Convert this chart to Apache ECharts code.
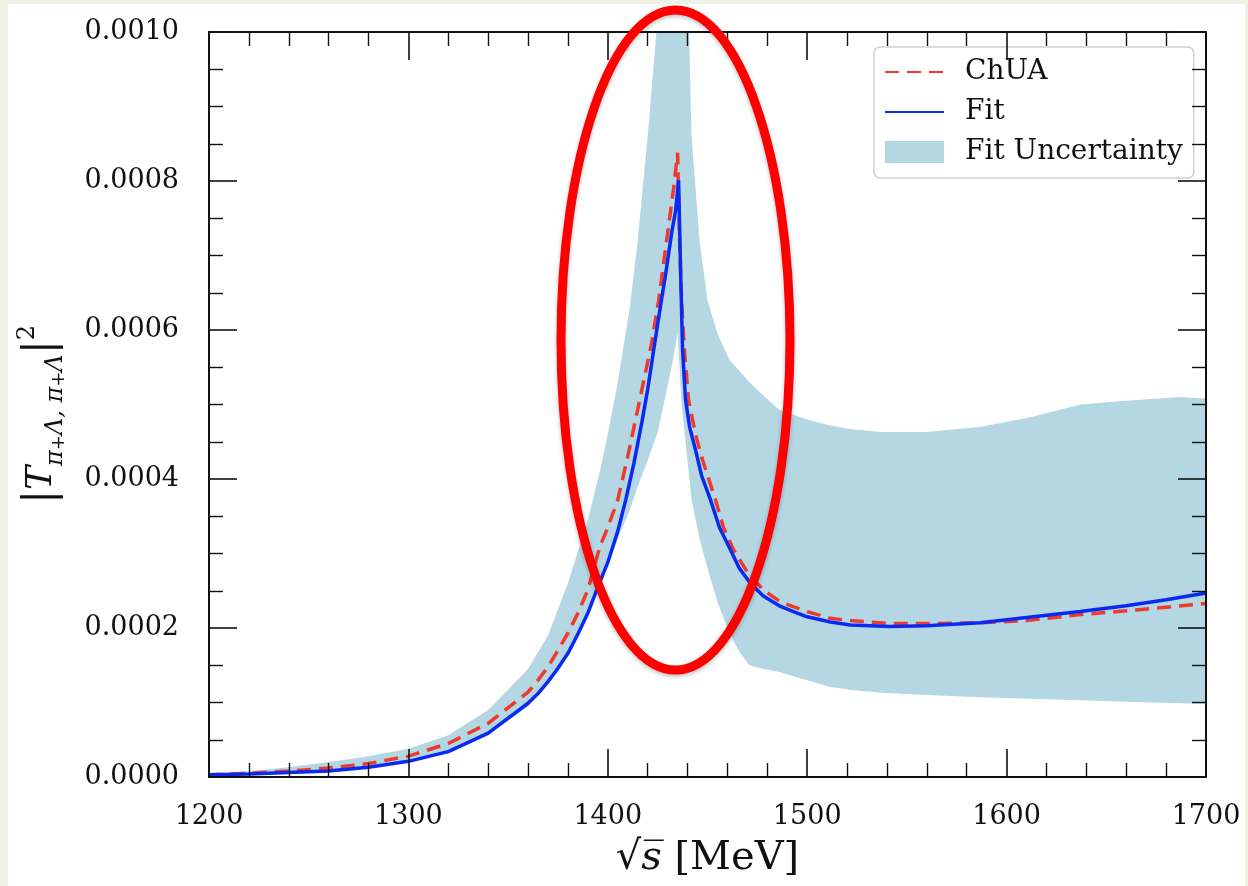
<!DOCTYPE html>
<html>
<head>
<meta charset="utf-8">
<script src="https://cdn.jsdelivr.net/npm/echarts@6/dist/echarts.min.js"></script>
<style>
  html, body { margin: 0; padding: 0; background: #eef2e4; }
  #chart { position: absolute; left: 8px; top: 4px; width: 1237px; height: 882px; background: #fff; }
</style>
</head>
<body>
<div id="chart"></div>
<script>
// values in units of 1e-4
const xTicks = [1200, 1300, 1400, 1500, 1600, 1700];
const yTicks = ['0.0000', '0.0002', '0.0004', '0.0006', '0.0008', '0.0010'];

const fitS = [1200, 1220, 1240, 1260, 1280, 1300, 1320, 1340, 1360, 1365, 1370, 1375, 1380, 1385, 1390,
  1395, 1400, 1405, 1409, 1413, 1417, 1420, 1423, 1426, 1429, 1432, 1434, 1435.5, 1436.5, 1437.5,
  1439, 1441, 1444, 1447, 1451.5, 1456, 1461.5, 1466, 1471.5, 1478, 1486.6, 1495, 1500, 1511.6,
  1521.6, 1541.7, 1560, 1586.8, 1610, 1636.9, 1660, 1680, 1700];
const fitV = [0.03, 0.04, 0.06, 0.08, 0.13, 0.21, 0.34, 0.59, 0.99, 1.12, 1.28, 1.46, 1.66, 1.92, 2.2,
  2.55, 2.88, 3.3, 3.72, 4.2, 4.75, 5.2, 5.73, 6.25, 6.75, 7.3, 7.6, 8.01, 6.8, 5.73,
  5.06, 4.7, 4.39, 4.05, 3.72, 3.35, 3.05, 2.8, 2.6, 2.43, 2.29, 2.2, 2.15, 2.08,
  2.04, 2.02, 2.03, 2.07, 2.14, 2.22, 2.3, 2.38, 2.47];

const chuaS = [1200, 1220, 1240, 1260, 1280, 1300, 1320, 1340, 1360, 1365, 1370, 1375, 1380, 1385, 1390,
  1396, 1400, 1405, 1410, 1416, 1422, 1425.5, 1428, 1431, 1433, 1435, 1436, 1437, 1438.5, 1440.5,
  1444, 1447, 1454, 1458, 1463, 1470, 1478, 1486.6, 1500, 1511.6, 1521.6, 1541.7, 1560, 1586.8,
  1610, 1637, 1660, 1680, 1700];
const chuaV = [0.03, 0.05, 0.08, 0.12, 0.18, 0.28, 0.45, 0.72, 1.14, 1.3, 1.48, 1.7, 1.93, 2.2, 2.51,
  3.09, 3.35, 3.72, 4.3, 5.06, 5.83, 6.4, 6.9, 7.5, 7.9, 8.38, 7.2, 6.4, 5.7, 5.06,
  4.6, 4.3, 3.72, 3.35, 3.05, 2.75, 2.51, 2.35, 2.22, 2.13, 2.1, 2.06, 2.06, 2.07,
  2.1, 2.18, 2.23, 2.28, 2.33];

const bandS = [1200, 1220, 1240, 1260, 1280, 1300, 1320, 1340, 1360, 1370, 1380, 1390, 1396, 1400, 1405,
  1411, 1415, 1420, 1425, 1428, 1432, 1435, 1436, 1437, 1439, 1442, 1446, 1450, 1455, 1461,
  1466, 1471, 1478, 1486, 1500, 1511, 1521, 1537, 1560, 1587, 1612, 1637, 1660, 1687, 1700];
const bandLow = [0.02, 0.03, 0.05, 0.08, 0.13, 0.2, 0.32, 0.56, 0.95, 1.25, 1.62, 2.15, 2.62, 2.85, 3.2,
  3.58, 3.9, 4.25, 4.62, 5.0, 5.5, 5.96, 5.5, 5.0, 4.5, 3.72, 3.2, 2.8, 2.35, 1.93,
  1.68, 1.5, 1.45, 1.41, 1.3, 1.21, 1.17, 1.13, 1.1, 1.07, 1.05, 1.03, 1.01, 0.99, 0.98];
const bandHigh = [0.04, 0.08, 0.13, 0.2, 0.28, 0.38, 0.56, 0.9, 1.45, 1.9, 2.6, 3.45, 4.1, 4.6, 5.3,
  6.3, 7.2, 8.6, 10.2, 11.5, 13.5, 15, 15, 15, 12, 8.6, 7.2, 6.4, 5.95, 5.6,
  5.45, 5.3, 5.12, 4.93, 4.8, 4.72, 4.67, 4.63, 4.63, 4.7, 4.83, 5.0, 5.05, 5.1, 5.08];

const serif = 'DejaVu Serif';
const bandColor = '#b4d7e3';
const chart = echarts.init(document.getElementById('chart'));

const pairs = (xs, ys) => xs.map((x, i) => [x, ys[i]]);

const frameAxis = (pos, extra) => Object.assign({
  position: pos,
  z: 10,
  axisLine: { show: true, onZero: false, lineStyle: { color: '#111', width: 2 } },
  axisTick: { show: true, inside: true, length: 28, lineStyle: { color: '#111', width: 1.6 } },
  splitLine: { show: false },
  minorSplitLine: { show: false }
}, extra);

const xBase = { type: 'value', min: xTicks[0], max: xTicks[xTicks.length - 1], interval: 100 };
const yBase = { type: 'value', min: 0, max: 10, interval: 2 };
const xMinor = { show: true, splitNumber: 5, length: 14, lineStyle: { color: '#111', width: 1.4 } };
const yMinor = { show: true, splitNumber: 4, length: 14, lineStyle: { color: '#111', width: 1.4 } };

const option = {
  animation: false,
  grid: { left: 200, right: 39, top: 28, bottom: 109 },
  xAxis: [
    frameAxis('bottom', Object.assign({}, xBase, {
      minorTick: xMinor,
      axisLabel: { fontFamily: serif, fontSize: 27, color: '#111', margin: 26, formatter: (v) => String(v) },
      name: '{sq|√}{it|s\u0305} [MeV]',
      nameLocation: 'middle',
      nameGap: 62,
      nameTextStyle: {
        fontFamily: serif, fontSize: 40, color: '#111',
        rich: {
          sq: { fontFamily: serif, fontSize: 40, color: '#111' },
          it: { fontFamily: serif, fontSize: 40, fontStyle: 'italic', color: '#111' }
        }
      }
    })),
    frameAxis('top', Object.assign({}, xBase, { minorTick: xMinor, axisLabel: { show: false } }))
  ],
  yAxis: [
    frameAxis('left', Object.assign({}, yBase, {
      minorTick: yMinor,
      axisLabel: {
        fontFamily: serif, fontSize: 27, color: '#111', margin: 30,
        formatter: (v) => yTicks[Math.round(v / 2)]
      },
      name: '{bar||}{t|T}{sub|π}{sp|+}{sub|Λ, π}{sp|+}{sub|Λ}{bar||}{sup|2}',
      nameLocation: 'middle',
      nameRotate: 90,
      nameGap: 141,
      nameTextStyle: {
        fontFamily: serif, color: '#111',
        padding: [0, 20, 0, 0],
        rich: {
          bar: { fontFamily: serif, fontSize: 42, color: '#111', lineHeight: 52 },
          t: { fontFamily: serif, fontSize: 36, fontStyle: 'italic', color: '#111', lineHeight: 52 },
          sub: { fontFamily: serif, fontSize: 24, fontStyle: 'italic', color: '#111', verticalAlign: 'bottom', lineHeight: 28 },
          sp: { fontFamily: serif, fontSize: 18, color: '#111', verticalAlign: 'bottom', lineHeight: 40 },
          sup: { fontFamily: serif, fontSize: 24, color: '#111', verticalAlign: 'top', lineHeight: 24 }
        }
      }
    })),
    frameAxis('right', Object.assign({}, yBase, { minorTick: yMinor, axisLabel: { show: false } }))
  ],
  legend: {
    left: 866, top: 43,
    orient: 'vertical',
    selectedMode: false,
    padding: [11, 11, 12, 10],
    itemGap: 12,
    itemWidth: 59,
    itemHeight: 22,
    backgroundColor: 'rgba(255,255,255,0.85)',
    borderColor: '#cfcfcf',
    borderWidth: 1.5,
    borderRadius: 6,
    textStyle: { fontFamily: serif, fontSize: 28, color: '#111', padding: [0, 0, 0, 16] },
    data: [
      { name: 'ChUA', itemStyle: { opacity: 0 } },
      { name: 'Fit', itemStyle: { opacity: 0 } },
      { name: 'Fit Uncertainty', icon: 'rect', itemStyle: { color: bandColor, borderWidth: 0 } }
    ]
  },
  graphic: [{
    type: 'ellipse',
    z: 100,
    shape: { cx: 667.5, cy: 336, rx: 114.5, ry: 330 },
    style: {
      fill: null, stroke: '#ff0000', lineWidth: 9,
      shadowBlur: 4, shadowColor: 'rgba(0,0,0,0.25)', shadowOffsetY: 2
    }
  }],
  series: [
    {
      name: 'Fit Uncertainty', type: 'custom', silent: true, z: 1,
      itemStyle: { color: bandColor },
      data: bandS.map((x, i) => [x, bandLow[i], bandHigh[i]]),
      encode: { x: 0, y: [1, 2] },
      renderItem: (params, api) => {
        if (params.dataIndex !== 0) return null;
        const upper = bandS.map((x, i) => api.coord([x, bandHigh[i]]));
        const lower = bandS.map((x, i) => api.coord([x, bandLow[i]])).reverse();
        const cs = params.coordSys;
        return {
          type: 'polygon',
          shape: { points: upper.concat(lower) },
          style: { fill: bandColor },
          clipPath: { type: 'rect', shape: { x: cs.x, y: cs.y, width: cs.width, height: cs.height } }
        };
      }
    },
    {
      name: 'ChUA', type: 'line', symbol: 'none', silent: true,
      data: pairs(chuaS, chuaV),
      color: '#ec3b2e',
      lineStyle: { color: '#ec3b2e', width: 3.5, type: [14, 8] },
      z: 3
    },
    {
      name: 'Fit', type: 'line', symbol: 'none', silent: true,
      data: pairs(fitS, fitV),
      color: '#0a2af2',
      lineStyle: { color: '#0a2af2', width: 3.5 },
      z: 4
    }
  ]
};

chart.setOption(option);
</script>
</body>
</html>
